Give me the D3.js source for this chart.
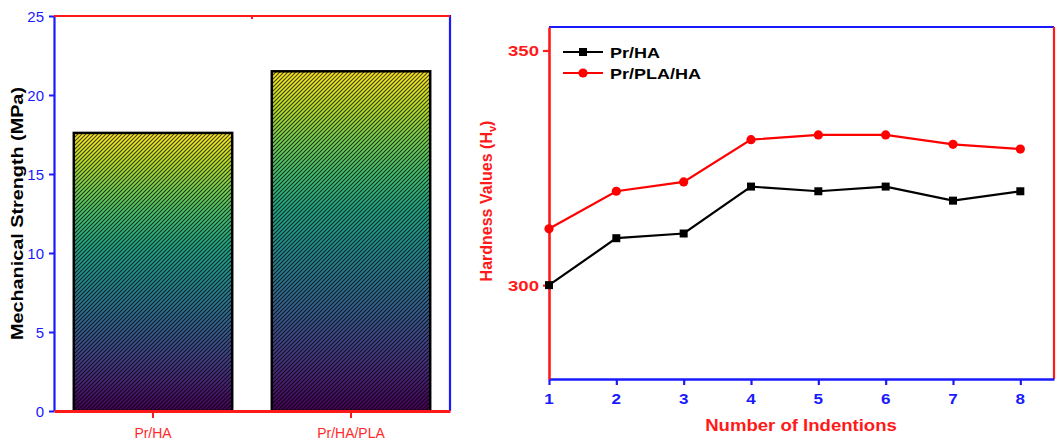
<!DOCTYPE html>
<html><head><meta charset="utf-8">
<script src="https://cdn.jsdelivr.net/npm/d3@7/dist/d3.min.js"></script>
<style>body{margin:0;background:#fff}svg{display:block;font-family:"Liberation Sans",Arial,sans-serif}</style>
</head><body>
<script>
// ---- data ----
const barCategories = ["Pr/HA", "Pr/HA/PLA"];
const barValues = [17.6, 21.5];
const barTicks = [0, 5, 10, 15, 20, 25];

const indentions = [1, 2, 3, 4, 5, 6, 7, 8];
const hardnessPrHA = [300, 310, 311, 321, 320, 321, 318, 320];
const hardnessPrPLAHA = [312, 320, 322, 331, 332, 332, 330, 329];
const hardnessTicks = [300, 350];
const seriesNames = ["Pr/HA", "Pr/PLA/HA"];

const W = 1057, H = 441;
const svg = d3.select("body").append("svg").attr("width", W).attr("height", H);
const defs = svg.append("defs");

function stext(g, x, y, txt, sx, opts) {
  const t = g.append("text").attr("transform", `translate(${x},${y}) scale(${sx},1)`).text(txt);
  Object.entries(opts || {}).forEach(([k, v]) => t.attr(k, v));
  return t;
}

// ---- left chart: bars ----
const L = {left: 54, right: 450, top: 16, bottom: 411};
const xb = d3.scaleBand().domain(barCategories).range([L.left, L.right]).paddingInner(0.2).paddingOuter(0.1);
const yb = d3.scaleLinear().domain([0, 25]).range([L.bottom, L.top]);

const grad = defs.append("linearGradient").attr("id", "vir").attr("x1", 0).attr("y1", 1).attr("x2", 0).attr("y2", 0);
d3.range(0, 1.0001, 0.1).forEach(t => grad.append("stop").attr("offset", t).attr("stop-color", d3.interpolateViridis(t)));

const pat = defs.append("pattern").attr("id", "hatch").attr("patternUnits", "userSpaceOnUse")
  .attr("width", 4).attr("height", 4);
pat.append("path").attr("d", "M-1,1 l2,-2 M0,4 l4,-4 M3,5 l2,-2").attr("stroke", "#000").attr("stroke-width", 1.05).attr("stroke-opacity", 0.75);

const gb = svg.append("g");
gb.selectAll("rect.fill").data(barValues).join("rect")
  .attr("x", (d, i) => xb(barCategories[i])).attr("width", xb.bandwidth())
  .attr("y", d => yb(d)).attr("height", d => yb(0) - yb(d)).attr("fill", "url(#vir)");
gb.selectAll("rect.hatch").data(barValues).join("rect")
  .attr("x", (d, i) => xb(barCategories[i])).attr("width", xb.bandwidth())
  .attr("y", d => yb(d)).attr("height", d => yb(0) - yb(d)).attr("fill", "url(#hatch)")
  .attr("stroke", "#000").attr("stroke-width", 2.5);

// axes
const yAxL = gb.append("g").attr("transform", `translate(${L.left},0)`)
  .call(d3.axisLeft(yb).tickValues(barTicks).tickSize(5).tickSizeOuter(0).tickPadding(4));
yAxL.select(".domain").attr("stroke", "#1a1aff").attr("stroke-width", 2.2);
yAxL.selectAll(".tick line").attr("stroke", "#1a1aff").attr("stroke-width", 2);
yAxL.selectAll(".tick text").remove();
barTicks.forEach(v => stext(gb, 44, yb(v) + 5.5, String(v), 1,
  {"text-anchor": "end", "fill": "#1a1aff", "font-size": 15}));

// right blue axis
gb.append("line").attr("x1", L.right).attr("x2", L.right).attr("y1", L.top - 1).attr("y2", L.bottom).attr("stroke", "#1a1aff").attr("stroke-width", 2.2);
// top red axis
gb.append("line").attr("x1", L.left).attr("x2", L.right).attr("y1", L.top).attr("y2", L.top).attr("stroke", "#ff1a1a").attr("stroke-width", 2.2);
gb.append("line").attr("x1", (L.left + L.right) / 2).attr("x2", (L.left + L.right) / 2).attr("y1", L.top).attr("y2", L.top + 3).attr("stroke", "#ff1a1a").attr("stroke-width", 2);

const xAxL = gb.append("g").attr("transform", `translate(0,${L.bottom})`)
  .call(d3.axisBottom(xb).tickSize(7).tickSizeOuter(0));
xAxL.select(".domain").attr("stroke", "#ff1a1a").attr("stroke-width", 3);
xAxL.selectAll(".tick line").attr("stroke", "#ff1a1a").attr("stroke-width", 2);
xAxL.selectAll(".tick text").remove();
barCategories.forEach(c => stext(gb, xb(c) + xb.bandwidth() / 2, 438, c, 0.9,
  {"text-anchor": "middle", "fill": "#ff2a2a", "font-size": 15.5}));

// y title
gb.append("text").attr("transform", `translate(23,${(L.top + L.bottom) / 2}) rotate(-90) scale(1.2,1)`)
  .attr("text-anchor", "middle").attr("font-weight", "bold").attr("font-size", 16.5).attr("fill", "#000")
  .text("Mechanical Strength (MPa)");

// ---- right chart: lines ----
const R = {left: 549, right: 1054, top: 27, bottom: 379};
const xl = d3.scaleLinear().domain([1, 8.5]).range([R.left, R.right]);
const yl = d3.scaleLinear().domain([280, 355]).range([R.bottom, R.top]);
const gl = svg.append("g");

// frame
gl.append("line").attr("x1", R.left).attr("x2", R.right).attr("y1", R.top).attr("y2", R.top).attr("stroke", "#1a1aff").attr("stroke-width", 2.2);
gl.append("line").attr("x1", R.right).attr("x2", R.right).attr("y1", R.top).attr("y2", R.bottom).attr("stroke", "#ff1a1a").attr("stroke-width", 2.2);

const xAxR = gl.append("g").attr("transform", `translate(0,${R.bottom})`)
  .call(d3.axisBottom(xl).tickValues(indentions).tickSize(6).tickSizeOuter(0).tickFormat(d3.format("d")));
xAxR.select(".domain").attr("stroke", "#1a1aff").attr("stroke-width", 2.6);
xAxR.selectAll(".tick line").attr("stroke", "#1a1aff").attr("stroke-width", 2.2);
xAxR.selectAll(".tick text").remove();
indentions.forEach(v => stext(gl, xl(v), 404, String(v), 1.1,
  {"text-anchor": "middle", "fill": "#1a1aff", "font-size": 15.5, "font-weight": "bold"}));

const yAxR = gl.append("g").attr("transform", `translate(${R.left},0)`)
  .call(d3.axisLeft(yl).tickValues(hardnessTicks).tickSize(6).tickSizeOuter(0));
yAxR.select(".domain").attr("stroke", "#ff1a1a").attr("stroke-width", 2.6);
yAxR.selectAll(".tick line").attr("stroke", "#ff1a1a").attr("stroke-width", 2.2);
yAxR.selectAll(".tick text").remove();
hardnessTicks.forEach(v => stext(gl, 539, yl(v) + 5.5, String(v), 1.2,
  {"text-anchor": "end", "fill": "#ff1a1a", "font-size": 15.5, "font-weight": "bold"}));

// titles
stext(gl, 801, 431, "Number of Indentions", 1.16,
  {"text-anchor": "middle", "fill": "#ff1a1a", "font-size": 16, "font-weight": "bold"});
const yt = gl.append("text").attr("transform", `translate(492,201) rotate(-90)`)
  .attr("text-anchor", "middle").attr("font-weight", "bold").attr("font-size", 16).attr("fill", "#ff1a1a");
yt.append("tspan").text("Hardness Values (H");
yt.append("tspan").attr("font-size", 11).attr("dy", 4).text("v");
yt.append("tspan").attr("dy", -4).text(")");

const line = d3.line().x((d, i) => xl(indentions[i])).y(d => yl(d));
// black series
gl.append("path").datum(hardnessPrHA).attr("d", line).attr("fill", "none").attr("stroke", "#000").attr("stroke-width", 2.2);
gl.selectAll("rect.sq").data(hardnessPrHA).join("rect")
  .attr("x", (d, i) => xl(indentions[i]) - 4).attr("y", d => yl(d) - 4).attr("width", 8).attr("height", 8).attr("fill", "#000");
// red series
gl.append("path").datum(hardnessPrPLAHA).attr("d", line).attr("fill", "none").attr("stroke", "#ff0000").attr("stroke-width", 2.2);
gl.selectAll("circle.ci").data(hardnessPrPLAHA).join("circle")
  .attr("cx", (d, i) => xl(indentions[i])).attr("cy", d => yl(d)).attr("r", 4.6).attr("fill", "#ff0000");

// legend
const lg = gl.append("g");
const legColors = ["#000", "#ff0000"];
seriesNames.forEach((n, i) => {
  const y = 52 + i * 21;
  lg.append("line").attr("x1", 563).attr("x2", 603).attr("y1", y).attr("y2", y).attr("stroke", legColors[i]).attr("stroke-width", 2.2);
  if (i === 0) lg.append("rect").attr("x", 579).attr("y", y - 4).attr("width", 8).attr("height", 8).attr("fill", "#000");
  else lg.append("circle").attr("cx", 583).attr("cy", y).attr("r", 4.6).attr("fill", "#ff0000");
  stext(lg, 610, y + 5.5, n, 1.2, {"fill": "#000", "font-size": 15, "font-weight": "bold"});
});
</script>
</body></html>
